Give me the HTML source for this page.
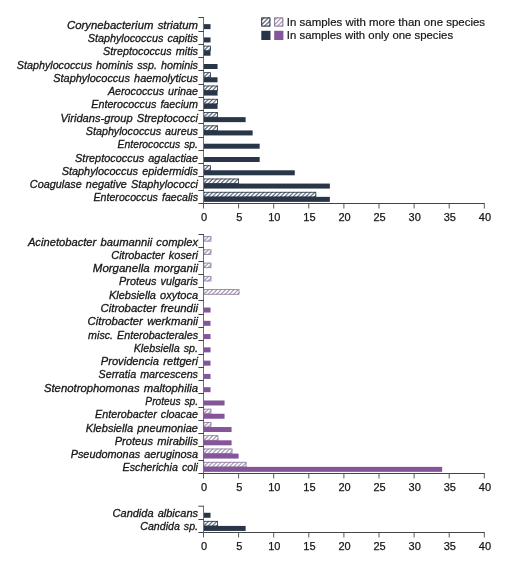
<!DOCTYPE html>
<html><head><meta charset="utf-8"><style>
html,body{margin:0;padding:0;background:#fff;width:520px;height:566px;overflow:hidden}
svg{display:block;will-change:transform}
.lab{stroke:#161616;stroke-width:0.3px;font-family:"Liberation Sans",sans-serif;font-style:italic;font-size:11px;word-spacing:1.1px;fill:#161616;text-anchor:end}
.tick{stroke:#161616;stroke-width:0.25px;font-family:"Liberation Sans",sans-serif;font-size:11px;fill:#161616;text-anchor:middle}
.leg{stroke:#161616;stroke-width:0.2px;font-family:"Liberation Sans",sans-serif;font-size:11.3px;fill:#161616}
</style></head><body>
<svg width="520" height="566" viewBox="0 0 520 566">
<defs>
<pattern id="hn" patternUnits="userSpaceOnUse" x="3.25" width="4.25" height="4.25"><rect width="4.25" height="4.25" fill="#283648"/><path d="M-2.125 2.125 L2.125 -2.125 M0 4.25 L4.25 0 M2.125 6.375 L6.375 2.125" stroke="#fff" stroke-width="2.104"/></pattern><pattern id="hp" patternUnits="userSpaceOnUse" x="3.25" width="4.25" height="4.25"><rect width="4.25" height="4.25" fill="#8a729c"/><path d="M-2.125 2.125 L2.125 -2.125 M0 4.25 L4.25 0 M2.125 6.375 L6.375 2.125" stroke="#fff" stroke-width="2.104"/></pattern><pattern id="hnl" patternUnits="userSpaceOnUse" x="0.9" width="4.5" height="4.5"><rect width="4.5" height="4.5" fill="#283648"/><path d="M-2.25 2.25 L2.25 -2.25 M0 4.5 L4.5 0 M2.25 6.75 L6.75 2.25" stroke="#fff" stroke-width="2.227"/></pattern><pattern id="hpl" patternUnits="userSpaceOnUse" x="0.9" width="4.5" height="4.5"><rect width="4.5" height="4.5" fill="#8a729c"/><path d="M-2.25 2.25 L2.25 -2.25 M0 4.5 L4.5 0 M2.25 6.75 L6.75 2.25" stroke="#fff" stroke-width="2.227"/></pattern>
</defs>
<rect x="203.50" y="24.14" width="7.02" height="5.00" fill="#283648"/><text x="198.00" y="28.64" class="lab" textLength="130.94" lengthAdjust="spacingAndGlyphs">Corynebacterium striatum</text><rect x="203.50" y="37.43" width="7.02" height="5.00" fill="#283648"/><text x="198.00" y="41.93" class="lab" textLength="110.28" lengthAdjust="spacingAndGlyphs">Staphylococcus capitis</text><g transform="translate(203.50 45.71)"><rect width="7.42" height="5.40" fill="url(#hn)"/><rect x="0.40" y="0.40" width="6.62" height="4.60" fill="none" stroke="#283648" stroke-width="0.8"/></g><rect x="203.50" y="50.71" width="7.02" height="5.00" fill="#283648"/><text x="198.00" y="55.21" class="lab" textLength="94.88" lengthAdjust="spacingAndGlyphs">Streptococcus mitis</text><rect x="203.50" y="64.00" width="14.04" height="5.00" fill="#283648"/><text x="198.00" y="68.50" class="lab" textLength="181.20" lengthAdjust="spacingAndGlyphs">Staphylococcus hominis ssp. hominis</text><g transform="translate(203.50 72.29)"><rect width="7.42" height="5.40" fill="url(#hn)"/><rect x="0.40" y="0.40" width="6.62" height="4.60" fill="none" stroke="#283648" stroke-width="0.8"/></g><rect x="203.50" y="77.29" width="14.04" height="5.00" fill="#283648"/><text x="198.00" y="81.79" class="lab" textLength="144.80" lengthAdjust="spacingAndGlyphs">Staphylococcus haemolyticus</text><g transform="translate(203.50 85.57)"><rect width="14.44" height="5.40" fill="url(#hn)"/><rect x="0.40" y="0.40" width="13.64" height="4.60" fill="none" stroke="#283648" stroke-width="0.8"/></g><rect x="203.50" y="90.57" width="14.04" height="5.00" fill="#283648"/><text x="198.00" y="95.07" class="lab" textLength="90.11" lengthAdjust="spacingAndGlyphs">Aerococcus urinae</text><g transform="translate(203.50 98.86)"><rect width="14.44" height="5.40" fill="url(#hn)"/><rect x="0.40" y="0.40" width="13.64" height="4.60" fill="none" stroke="#283648" stroke-width="0.8"/></g><rect x="203.50" y="103.86" width="14.04" height="5.00" fill="#283648"/><text x="198.00" y="108.36" class="lab" textLength="106.72" lengthAdjust="spacingAndGlyphs">Enterococcus faecium</text><g transform="translate(203.50 112.14)"><rect width="14.44" height="5.40" fill="url(#hn)"/><rect x="0.40" y="0.40" width="13.64" height="4.60" fill="none" stroke="#283648" stroke-width="0.8"/></g><rect x="203.50" y="117.14" width="42.12" height="5.00" fill="#283648"/><text x="198.00" y="121.64" class="lab" textLength="137.42" lengthAdjust="spacingAndGlyphs">Viridans-group Streptococci</text><g transform="translate(203.50 125.43)"><rect width="14.44" height="5.40" fill="url(#hn)"/><rect x="0.40" y="0.40" width="13.64" height="4.60" fill="none" stroke="#283648" stroke-width="0.8"/></g><rect x="203.50" y="130.43" width="49.14" height="5.00" fill="#283648"/><text x="198.00" y="134.93" class="lab" textLength="112.23" lengthAdjust="spacingAndGlyphs">Staphylococcus aureus</text><rect x="203.50" y="143.71" width="56.16" height="5.00" fill="#283648"/><text x="198.00" y="148.21" class="lab" textLength="80.38" lengthAdjust="spacingAndGlyphs">Enterococcus sp.</text><rect x="203.50" y="157.00" width="56.16" height="5.00" fill="#283648"/><text x="198.00" y="161.50" class="lab" textLength="122.92" lengthAdjust="spacingAndGlyphs">Streptococcus agalactiae</text><g transform="translate(203.50 165.29)"><rect width="7.42" height="5.40" fill="url(#hn)"/><rect x="0.40" y="0.40" width="6.62" height="4.60" fill="none" stroke="#283648" stroke-width="0.8"/></g><rect x="203.50" y="170.29" width="91.26" height="5.00" fill="#283648"/><text x="198.00" y="174.79" class="lab" textLength="136.36" lengthAdjust="spacingAndGlyphs">Staphylococcus epidermidis</text><g transform="translate(203.50 178.57)"><rect width="35.50" height="5.40" fill="url(#hn)"/><rect x="0.40" y="0.40" width="34.70" height="4.60" fill="none" stroke="#283648" stroke-width="0.8"/></g><rect x="203.50" y="183.57" width="126.36" height="5.00" fill="#283648"/><text x="198.00" y="188.07" class="lab" textLength="168.17" lengthAdjust="spacingAndGlyphs">Coagulase negative Staphylococci</text><g transform="translate(203.50 191.86)"><rect width="112.72" height="5.40" fill="url(#hn)"/><rect x="0.40" y="0.40" width="111.92" height="4.60" fill="none" stroke="#283648" stroke-width="0.8"/></g><rect x="203.50" y="196.86" width="126.36" height="5.00" fill="#283648"/><text x="198.00" y="201.36" class="lab" textLength="104.50" lengthAdjust="spacingAndGlyphs">Enterococcus faecalis</text><path d="M203.5 17.5 V203.5" fill="none" stroke="#707070" stroke-width="1"/><path d="M198.4 203.5 H484.80" fill="none" stroke="#444444" stroke-width="1"/><path d="M198.4 17.50 H204.0" stroke="#444444" stroke-width="1"/><path d="M198.4 31.50 H204.0" stroke="#444444" stroke-width="1"/><path d="M198.4 44.50 H204.0" stroke="#444444" stroke-width="1"/><path d="M198.4 57.50 H204.0" stroke="#444444" stroke-width="1"/><path d="M198.4 70.50 H204.0" stroke="#444444" stroke-width="1"/><path d="M198.4 84.50 H204.0" stroke="#444444" stroke-width="1"/><path d="M198.4 97.50 H204.0" stroke="#444444" stroke-width="1"/><path d="M198.4 110.50 H204.0" stroke="#444444" stroke-width="1"/><path d="M198.4 123.50 H204.0" stroke="#444444" stroke-width="1"/><path d="M198.4 137.50 H204.0" stroke="#444444" stroke-width="1"/><path d="M198.4 150.50 H204.0" stroke="#444444" stroke-width="1"/><path d="M198.4 163.50 H204.0" stroke="#444444" stroke-width="1"/><path d="M198.4 176.50 H204.0" stroke="#444444" stroke-width="1"/><path d="M198.4 190.50 H204.0" stroke="#444444" stroke-width="1"/><path d="M203.50 203.50 v5" stroke="#5a5a5a" stroke-width="1"/><text x="204.10" y="220.80" class="tick">0</text><path d="M238.60 203.50 v5" stroke="#5a5a5a" stroke-width="1"/><text x="239.20" y="220.80" class="tick">5</text><path d="M273.70 203.50 v5" stroke="#5a5a5a" stroke-width="1"/><text x="274.30" y="220.80" class="tick">10</text><path d="M308.80 203.50 v5" stroke="#5a5a5a" stroke-width="1"/><text x="309.40" y="220.80" class="tick">15</text><path d="M343.90 203.50 v5" stroke="#5a5a5a" stroke-width="1"/><text x="344.50" y="220.80" class="tick">20</text><path d="M379.00 203.50 v5" stroke="#5a5a5a" stroke-width="1"/><text x="379.60" y="220.80" class="tick">25</text><path d="M414.10 203.50 v5" stroke="#5a5a5a" stroke-width="1"/><text x="414.70" y="220.80" class="tick">30</text><path d="M449.20 203.50 v5" stroke="#5a5a5a" stroke-width="1"/><text x="449.80" y="220.80" class="tick">35</text><path d="M484.30 203.50 v5" stroke="#5a5a5a" stroke-width="1"/><text x="484.90" y="220.80" class="tick">40</text><g transform="translate(203.50 236.14)"><rect width="7.82" height="5.40" fill="url(#hp)"/><rect x="0.40" y="0.40" width="7.02" height="4.60" fill="none" stroke="#8a7898" stroke-width="0.8"/></g><text x="198.00" y="245.64" class="lab" textLength="170.09" lengthAdjust="spacingAndGlyphs">Acinetobacter baumannii complex</text><g transform="translate(203.50 249.42)"><rect width="7.82" height="5.40" fill="url(#hp)"/><rect x="0.40" y="0.40" width="7.02" height="4.60" fill="none" stroke="#8a7898" stroke-width="0.8"/></g><text x="198.00" y="258.92" class="lab" textLength="86.70" lengthAdjust="spacingAndGlyphs">Citrobacter koseri</text><g transform="translate(203.50 262.69)"><rect width="7.82" height="5.40" fill="url(#hp)"/><rect x="0.40" y="0.40" width="7.02" height="4.60" fill="none" stroke="#8a7898" stroke-width="0.8"/></g><text x="198.00" y="272.19" class="lab" textLength="105.17" lengthAdjust="spacingAndGlyphs">Morganella morganii</text><g transform="translate(203.50 275.97)"><rect width="7.82" height="5.40" fill="url(#hp)"/><rect x="0.40" y="0.40" width="7.02" height="4.60" fill="none" stroke="#8a7898" stroke-width="0.8"/></g><text x="198.00" y="285.47" class="lab" textLength="78.88" lengthAdjust="spacingAndGlyphs">Proteus vulgaris</text><g transform="translate(203.50 289.25)"><rect width="35.90" height="5.40" fill="url(#hp)"/><rect x="0.40" y="0.40" width="35.10" height="4.60" fill="none" stroke="#8a7898" stroke-width="0.8"/></g><text x="198.00" y="298.75" class="lab" textLength="89.06" lengthAdjust="spacingAndGlyphs">Klebsiella oxytoca</text><rect x="203.50" y="307.53" width="7.02" height="5.00" fill="#84559b"/><text x="198.00" y="312.03" class="lab" textLength="97.44" lengthAdjust="spacingAndGlyphs">Citrobacter freundii</text><rect x="203.50" y="320.81" width="7.02" height="5.00" fill="#84559b"/><text x="198.00" y="325.31" class="lab" textLength="110.38" lengthAdjust="spacingAndGlyphs">Citrobacter werkmanii</text><rect x="203.50" y="334.08" width="7.02" height="5.00" fill="#84559b"/><text x="198.00" y="338.58" class="lab" textLength="109.89" lengthAdjust="spacingAndGlyphs">misc. Enterobacterales</text><rect x="203.50" y="347.36" width="7.02" height="5.00" fill="#84559b"/><text x="198.00" y="351.86" class="lab" textLength="64.33" lengthAdjust="spacingAndGlyphs">Klebsiella sp.</text><rect x="203.50" y="360.64" width="7.02" height="5.00" fill="#84559b"/><text x="198.00" y="365.14" class="lab" textLength="97.28" lengthAdjust="spacingAndGlyphs">Providencia rettgeri</text><rect x="203.50" y="373.92" width="7.02" height="5.00" fill="#84559b"/><text x="198.00" y="378.42" class="lab" textLength="99.38" lengthAdjust="spacingAndGlyphs">Serratia marcescens</text><rect x="203.50" y="387.19" width="7.02" height="5.00" fill="#84559b"/><text x="198.00" y="391.69" class="lab" textLength="154.09" lengthAdjust="spacingAndGlyphs">Stenotrophomonas maltophilia</text><rect x="203.50" y="400.47" width="21.06" height="5.00" fill="#84559b"/><text x="198.00" y="404.97" class="lab" textLength="52.64" lengthAdjust="spacingAndGlyphs">Proteus sp.</text><g transform="translate(203.50 408.75)"><rect width="7.82" height="5.40" fill="url(#hp)"/><rect x="0.40" y="0.40" width="7.02" height="4.60" fill="none" stroke="#8a7898" stroke-width="0.8"/></g><rect x="203.50" y="413.75" width="21.06" height="5.00" fill="#84559b"/><text x="198.00" y="418.25" class="lab" textLength="102.95" lengthAdjust="spacingAndGlyphs">Enterobacter cloacae</text><g transform="translate(203.50 422.03)"><rect width="7.82" height="5.40" fill="url(#hp)"/><rect x="0.40" y="0.40" width="7.02" height="4.60" fill="none" stroke="#8a7898" stroke-width="0.8"/></g><rect x="203.50" y="427.03" width="28.08" height="5.00" fill="#84559b"/><text x="198.00" y="431.53" class="lab" textLength="112.19" lengthAdjust="spacingAndGlyphs">Klebsiella pneumoniae</text><g transform="translate(203.50 435.31)"><rect width="14.84" height="5.40" fill="url(#hp)"/><rect x="0.40" y="0.40" width="14.04" height="4.60" fill="none" stroke="#8a7898" stroke-width="0.8"/></g><rect x="203.50" y="440.31" width="28.08" height="5.00" fill="#84559b"/><text x="198.00" y="444.81" class="lab" textLength="83.31" lengthAdjust="spacingAndGlyphs">Proteus mirabilis</text><g transform="translate(203.50 448.58)"><rect width="28.88" height="5.40" fill="url(#hp)"/><rect x="0.40" y="0.40" width="28.08" height="4.60" fill="none" stroke="#8a7898" stroke-width="0.8"/></g><rect x="203.50" y="453.58" width="35.10" height="5.00" fill="#84559b"/><text x="198.00" y="458.08" class="lab" textLength="127.31" lengthAdjust="spacingAndGlyphs">Pseudomonas aeruginosa</text><g transform="translate(203.50 461.86)"><rect width="42.92" height="5.40" fill="url(#hp)"/><rect x="0.40" y="0.40" width="42.12" height="4.60" fill="none" stroke="#8a7898" stroke-width="0.8"/></g><rect x="203.50" y="466.86" width="238.68" height="5.00" fill="#84559b"/><text x="198.00" y="471.36" class="lab" textLength="75.42" lengthAdjust="spacingAndGlyphs">Escherichia coli</text><path d="M203.5 234.5 V473.5" fill="none" stroke="#707070" stroke-width="1"/><path d="M198.4 473.5 H484.80" fill="none" stroke="#444444" stroke-width="1"/><path d="M198.4 234.50 H204.0" stroke="#444444" stroke-width="1"/><path d="M198.4 247.50 H204.0" stroke="#444444" stroke-width="1"/><path d="M198.4 261.50 H204.0" stroke="#444444" stroke-width="1"/><path d="M198.4 274.50 H204.0" stroke="#444444" stroke-width="1"/><path d="M198.4 287.50 H204.0" stroke="#444444" stroke-width="1"/><path d="M198.4 300.50 H204.0" stroke="#444444" stroke-width="1"/><path d="M198.4 314.50 H204.0" stroke="#444444" stroke-width="1"/><path d="M198.4 327.50 H204.0" stroke="#444444" stroke-width="1"/><path d="M198.4 340.50 H204.0" stroke="#444444" stroke-width="1"/><path d="M198.4 354.50 H204.0" stroke="#444444" stroke-width="1"/><path d="M198.4 367.50 H204.0" stroke="#444444" stroke-width="1"/><path d="M198.4 380.50 H204.0" stroke="#444444" stroke-width="1"/><path d="M198.4 393.50 H204.0" stroke="#444444" stroke-width="1"/><path d="M198.4 407.50 H204.0" stroke="#444444" stroke-width="1"/><path d="M198.4 420.50 H204.0" stroke="#444444" stroke-width="1"/><path d="M198.4 433.50 H204.0" stroke="#444444" stroke-width="1"/><path d="M198.4 446.50 H204.0" stroke="#444444" stroke-width="1"/><path d="M198.4 460.50 H204.0" stroke="#444444" stroke-width="1"/><path d="M203.50 473.50 v5" stroke="#5a5a5a" stroke-width="1"/><text x="204.10" y="490.80" class="tick">0</text><path d="M238.60 473.50 v5" stroke="#5a5a5a" stroke-width="1"/><text x="239.20" y="490.80" class="tick">5</text><path d="M273.70 473.50 v5" stroke="#5a5a5a" stroke-width="1"/><text x="274.30" y="490.80" class="tick">10</text><path d="M308.80 473.50 v5" stroke="#5a5a5a" stroke-width="1"/><text x="309.40" y="490.80" class="tick">15</text><path d="M343.90 473.50 v5" stroke="#5a5a5a" stroke-width="1"/><text x="344.50" y="490.80" class="tick">20</text><path d="M379.00 473.50 v5" stroke="#5a5a5a" stroke-width="1"/><text x="379.60" y="490.80" class="tick">25</text><path d="M414.10 473.50 v5" stroke="#5a5a5a" stroke-width="1"/><text x="414.70" y="490.80" class="tick">30</text><path d="M449.20 473.50 v5" stroke="#5a5a5a" stroke-width="1"/><text x="449.80" y="490.80" class="tick">35</text><path d="M484.30 473.50 v5" stroke="#5a5a5a" stroke-width="1"/><text x="484.90" y="490.80" class="tick">40</text><rect x="203.50" y="512.77" width="7.02" height="5.00" fill="#283648"/><text x="198.00" y="517.27" class="lab" textLength="85.39" lengthAdjust="spacingAndGlyphs">Candida albicans</text><g transform="translate(203.50 520.92)"><rect width="14.44" height="5.40" fill="url(#hn)"/><rect x="0.40" y="0.40" width="13.64" height="4.60" fill="none" stroke="#283648" stroke-width="0.8"/></g><rect x="203.50" y="525.92" width="42.12" height="5.00" fill="#283648"/><text x="198.00" y="530.42" class="lab" textLength="57.72" lengthAdjust="spacingAndGlyphs">Candida sp.</text><path d="M203.5 506.2 V532.5" fill="none" stroke="#707070" stroke-width="1"/><path d="M198.4 532.5 H484.80" fill="none" stroke="#444444" stroke-width="1"/><path d="M198.4 506.20 H204.0" stroke="#444444" stroke-width="1"/><path d="M198.4 519.50 H204.0" stroke="#444444" stroke-width="1"/><path d="M203.50 532.50 v5" stroke="#5a5a5a" stroke-width="1"/><text x="204.10" y="549.80" class="tick">0</text><path d="M238.60 532.50 v5" stroke="#5a5a5a" stroke-width="1"/><text x="239.20" y="549.80" class="tick">5</text><path d="M273.70 532.50 v5" stroke="#5a5a5a" stroke-width="1"/><text x="274.30" y="549.80" class="tick">10</text><path d="M308.80 532.50 v5" stroke="#5a5a5a" stroke-width="1"/><text x="309.40" y="549.80" class="tick">15</text><path d="M343.90 532.50 v5" stroke="#5a5a5a" stroke-width="1"/><text x="344.50" y="549.80" class="tick">20</text><path d="M379.00 532.50 v5" stroke="#5a5a5a" stroke-width="1"/><text x="379.60" y="549.80" class="tick">25</text><path d="M414.10 532.50 v5" stroke="#5a5a5a" stroke-width="1"/><text x="414.70" y="549.80" class="tick">30</text><path d="M449.20 532.50 v5" stroke="#5a5a5a" stroke-width="1"/><text x="449.80" y="549.80" class="tick">35</text><path d="M484.30 532.50 v5" stroke="#5a5a5a" stroke-width="1"/><text x="484.90" y="549.80" class="tick">40</text>

<g transform="translate(261.2 17.4)"><rect width="9.2" height="9.2" fill="url(#hnl)"/>
<rect x="0.5" y="0.5" width="8.2" height="8.2" fill="none" stroke="#283648" stroke-width="1"/></g>
<g transform="translate(274.1 17.4)"><rect width="9.2" height="9.2" fill="url(#hpl)"/>
<rect x="0.5" y="0.5" width="8.2" height="8.2" fill="none" stroke="#8a7898" stroke-width="1"/></g>
<rect x="261.3" y="30.8" width="9.2" height="9.2" fill="#283648"/>
<rect x="274.2" y="30.8" width="9.2" height="9.2" fill="#84559b"/>
<text x="286.8" y="26.2" class="leg" textLength="198.3" lengthAdjust="spacingAndGlyphs">In samples with more than one species</text>
<text x="286.8" y="39.3" class="leg" textLength="166.3" lengthAdjust="spacingAndGlyphs">In samples with only one species</text>

</svg>
</body></html>
